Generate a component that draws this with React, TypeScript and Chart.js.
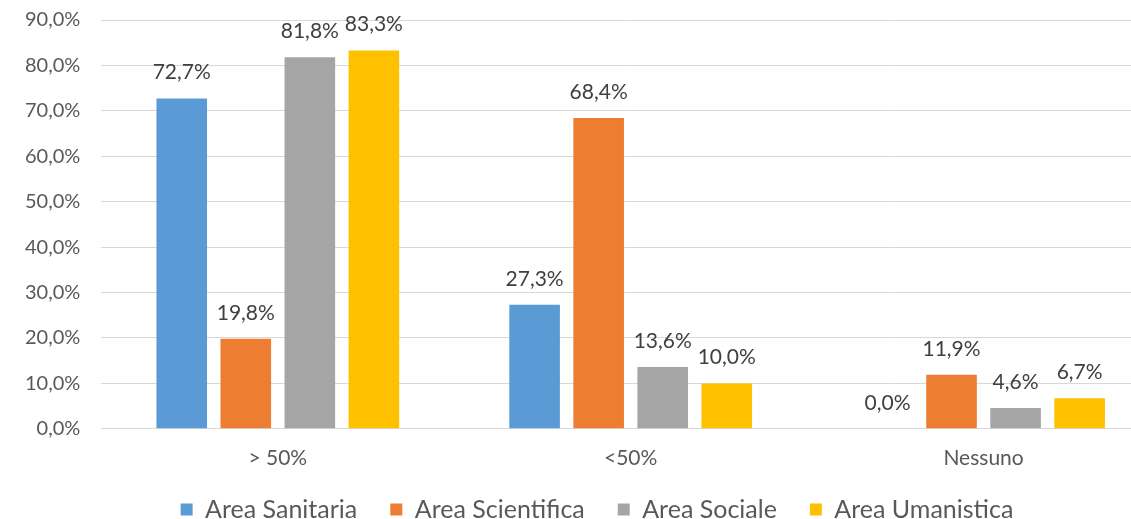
import React, { useEffect, useRef } from "react";
import { Chart, registerables } from "chart.js";

Chart.register(...registerables);

const categories = ["> 50%", "<50%", "Nessuno"];
const seriesNames = ["Area Sanitaria", "Area Scientifica", "Area Sociale", "Area Umanistica"];
const sanitaria = [72.7, 27.3, 0.0];
const scientifica = [19.8, 68.4, 11.9];
const sociale = [81.8, 13.6, 4.6];
const umanistica = [83.3, 10.0, 6.7];
const colors = ["#5B9BD5", "#ED7D31", "#A5A5A5", "#FFC000"];
const yTicks = [0, 10, 20, 30, 40, 50, 60, 70, 80, 90];

const fmt = (v: number) => v.toFixed(1).replace(".", ",") + "%";
const FONT = "Lato, 'Open Sans', sans-serif";

const labelPlugin = {
  id: "valueLabels",
  afterInit(chart: any) {
    const legend = chart.legend;
    if (legend) {
      const origFit = legend.fit.bind(legend);
      legend.fit = function () {
        origFit();
        this.height = 39;
      };
      const origDraw = legend.draw.bind(legend);
      legend.draw = function () {
        const dx = 15;
        const dy = -16;
        this.left += dx;
        this.right += dx;
        this.top += dy;
        this.bottom = this.top + 80;
        origDraw();
        this.left -= dx;
        this.right -= dx;
        this.top -= dy;
        this.bottom = this.top + this.height;
      };
    }
  },
  afterDatasetsDraw(chart: any) {
    const ctx = chart.ctx;
    ctx.save();
    ctx.font = `21px ${FONT}`;
    ctx.fillStyle = "#404040";
    ctx.textAlign = "center";
    ctx.textBaseline = "middle";
    chart.data.datasets.forEach((ds: any, i: number) => {
      const meta = chart.getDatasetMeta(i);
      meta.data.forEach((bar: any, j: number) => {
        ctx.fillText(fmt(ds.data[j]), bar.x, bar.y - 26);
      });
    });
    ctx.restore();
  },
};

export default function App() {
  const ref = useRef<HTMLCanvasElement>(null);
  useEffect(() => {
    if (!ref.current) return;
    const data = [sanitaria, scientifica, sociale, umanistica];
    const chart = new Chart(ref.current, {
      type: "bar",
      data: {
        labels: categories,
        datasets: seriesNames.map((n, i) => ({
          label: n,
          data: data[i],
          backgroundColor: colors[i],
          categoryPercentage: 0.726,
          barPercentage: 0.79,
        })),
      },
      options: {
        animation: false,
        responsive: false,
        maintainAspectRatio: false,
        layout: { padding: { top: 0, left: 4, right: 0, bottom: 0 } },
        scales: {
          x: {
            grid: { display: false },
            border: { display: true, color: "#D9D9D9", width: 1 },
            ticks: { color: "#595959", font: { family: FONT, size: 21 }, padding: 9 },
          },
          y: {
            min: 0,
            max: 90,
            afterBuildTicks: (axis: any) => {
              axis.ticks = yTicks.map((v) => ({ value: v }));
            },
            afterFit: (s: any) => {
              s.paddingTop = 20;
              s.paddingBottom = 12;
            },
            grid: { color: "#D9D9D9", lineWidth: 1, drawTicks: false },
            border: { display: false },
            ticks: {
              color: "#595959",
              font: { family: FONT, size: 20 },
              padding: 21,
              callback: (v: any) => fmt(Number(v)),
            },
          },
        },
        plugins: {
          legend: {
            position: "bottom",
            labels: {
              color: "#595959",
              font: { family: FONT, size: 25 },
              boxWidth: 12,
              boxHeight: 12,
              padding: 33,
            },
          },
          tooltip: { enabled: false },
        },
      },
      plugins: [labelPlugin],
    });
    return () => chart.destroy();
  }, []);
  return (
    <div style={{ position: "fixed", left: 0, top: 0, width: 1131, height: 519, overflow: "hidden", background: "#fff" }}>
      <canvas ref={ref} width={1160} height={519} style={{ width: 1160, height: 519 }} />
    </div>
  );
}
